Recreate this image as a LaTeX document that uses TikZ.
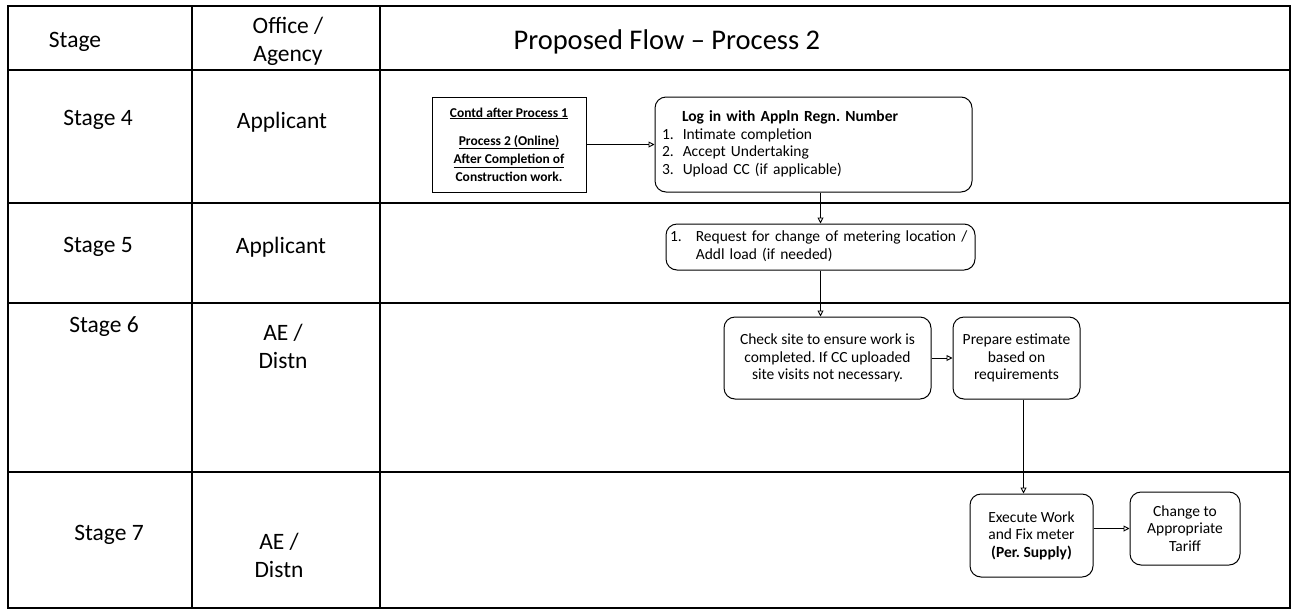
\documentclass[tikz,border=0pt]{standalone}
\usepackage{fontspec}
\setmainfont{Carlito}
\frenchspacing
\usetikzlibrary{arrows.meta}
\tikzset{
  grid/.style={line width=1.3pt},
  sq/.style={draw, line width=1pt, inner sep=3pt, align=center, font=\fontsize{13.5}{18}\selectfont\bfseries},
  rbox/.style={draw, line width=1pt, rounded corners=11pt, inner sep=4pt, align=center, font=\fontsize{15.5}{17.5}\selectfont},
  lbl/.style={font=\fontsize{23.5}{28}\selectfont, align=center},
  arr/.style={line width=0.9pt, -{Triangle[open, length=6pt, width=6pt]}}
}
\begin{document}
\begin{tikzpicture}[x=1pt,y=-1pt]
\useasboundingbox (0,0) rectangle (1295,614);
% table
\draw[grid] (8,6) rectangle (1290,608);
\draw[grid] (192,6) -- (192,608);
\draw[grid] (380,6) -- (380,608);
\draw[grid] (8,70) -- (1290,70);
\draw[grid] (8,203) -- (1290,203);
\draw[grid] (8,303) -- (1290,303);
\draw[grid] (8,472) -- (1290,472);
% headers
\node[lbl] (hstage) at (75,42) {Stage};
\node[lbl] (hoffice) at (288,41) {Office /\\Agency};
\node[font=\fontsize{28.5}{30}\selectfont, anchor=west] (htitle) at (510,42) {Proposed Flow -- Process 2};
% stage labels
\node[lbl] (s4) at (98,120) {Stage 4};
\node[lbl] (a4) at (282,122) {Applicant};
\node[lbl] (s5) at (98,247) {Stage 5};
\node[lbl] (a5) at (281,247) {Applicant};
\node[lbl] (s6) at (104,327) {Stage 6};
\node[lbl] (a6) at (283,346) {AE /\\Distn};
\node[lbl] (s7) at (109,535) {Stage 7};
\node[lbl] (a7) at (279,555) {AE /\\Distn};
% flow boxes
\node[sq, minimum width=154, minimum height=95] (A) at (509,144.5)
  {\underline{Contd after Process 1}\\[10pt]\underline{Process 2 (Online)}\\\underline{After Completion of}\\Construction work.};
\node[rbox, minimum width=317, minimum height=95, text width=303, align=left] (B) at (813.5,144.5)
  {\begin{tabular}{@{}l@{\hspace{9pt}}l@{}}
   \multicolumn{2}{@{}l@{}}{\hspace{20pt}\textbf{Log in with Appln Regn. Number}}\\
   1. & Intimate completion\\
   2. & Accept Undertaking\\
   3. & Upload CC (if applicable)
   \end{tabular}};
\node[rbox, minimum width=309, minimum height=46, text width=301, align=left] (C) at (820.5,247)
  {\begin{tabular}{@{}l@{\hspace{14pt}}l@{}}
   1. & Request for change of metering location /\\
      & Addl load (if needed)
   \end{tabular}};
\node[rbox, minimum width=207, minimum height=82] (D) at (827.5,358)
  {Check site to ensure work is\\completed. If CC uploaded\\site visits not necessary.};
\node[rbox, minimum width=127, minimum height=82] (E) at (1016.5,358)
  {Prepare estimate\\based on\\requirements};
\node[rbox, minimum width=123, minimum height=83] (F) at (1031.5,535.5)
  {Execute Work\\and Fix meter\\\textbf{(Per. Supply)}};
\node[rbox, minimum width=110, minimum height=73] (G) at (1185,528.5)
  {Change to\\Appropriate\\Tariff};
% connectors
\draw[arr] (A.east) -- (B.west);
\draw[arr] (B.south -| C.north) -- (C.north);
\draw[arr] (C.south) -- (C.south |- D.north);
\draw[arr] (D.east) -- (E.west);
\draw[arr] ([xshift=7pt]E.south) -- ([xshift=7pt]E.south |- F.north);
\draw[arr] (F.east |- G.west) -- (G.west);
\end{tikzpicture}
\end{document}
